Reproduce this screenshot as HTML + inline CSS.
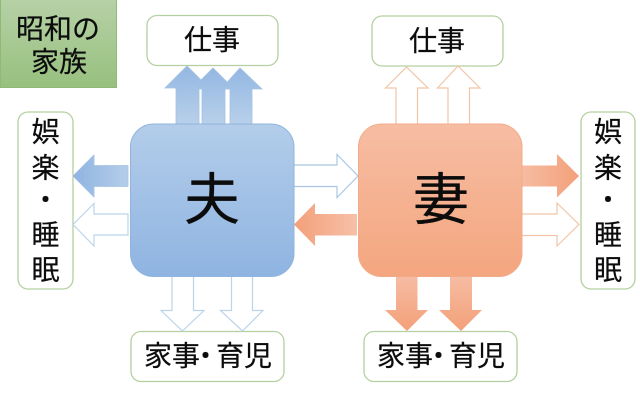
<!DOCTYPE html>
<html lang="ja">
<head>
<meta charset="utf-8">
<style>
html,body{margin:0;padding:0;background:#fff;width:640px;height:400px;overflow:hidden}
svg{display:block;filter:blur(0.3px)}
text{font-family:"Liberation Sans","Noto Sans CJK JP",sans-serif;fill:#0c0c0c;stroke:#0c0c0c;stroke-width:0.2;text-anchor:middle;dominant-baseline:central}
</style>
</head>
<body>
<svg width="640" height="400" viewBox="0 0 640 400" xmlns="http://www.w3.org/2000/svg">
<defs>
<linearGradient id="gg" x1="0" y1="0" x2="0" y2="1"><stop offset="0" stop-color="#b6d1a6"/><stop offset="1" stop-color="#97c07e"/></linearGradient>
<linearGradient id="bb" x1="0" y1="0" x2="0" y2="1"><stop offset="0" stop-color="#b3cdea"/><stop offset="1" stop-color="#8fb4e1"/></linearGradient>
<linearGradient id="ob" x1="0" y1="0" x2="0" y2="1"><stop offset="0" stop-color="#f6bda3"/><stop offset="1" stop-color="#f4a67f"/></linearGradient>
<linearGradient id="bu" x1="0" y1="1" x2="0" y2="0"><stop offset="0" stop-color="#b8d0ea"/><stop offset="1" stop-color="#93b7e2"/></linearGradient>
<linearGradient id="bl" x1="1" y1="0" x2="0" y2="0"><stop offset="0" stop-color="#b5cde9"/><stop offset="1" stop-color="#8fb4e1"/></linearGradient>
<linearGradient id="or" x1="0" y1="0" x2="1" y2="0"><stop offset="0" stop-color="#f6bca3"/><stop offset="1" stop-color="#f3a079"/></linearGradient>
<linearGradient id="ol" x1="1" y1="0" x2="0" y2="0"><stop offset="0" stop-color="#f6c0a8"/><stop offset="1" stop-color="#f3a079"/></linearGradient>
<linearGradient id="od" x1="0" y1="0" x2="0" y2="1"><stop offset="0" stop-color="#f6bca3"/><stop offset="1" stop-color="#f3a079"/></linearGradient>
</defs>

<rect x="0.5" y="-1" width="116" height="88.5" fill="url(#gg)" stroke="#8fba76" stroke-width="1"/>
<text x="58" y="29" font-size="28">昭和の</text>
<text x="59" y="62" font-size="28">家族</text>

<!-- label boxes -->
<g fill="#fff" stroke="#b5d0a0" stroke-width="1.3">
<rect x="147" y="15.500" width="131" height="50" rx="10"/>
<rect x="372" y="16" width="131" height="50" rx="10"/>
<rect x="18" y="112" width="55" height="177" rx="10"/>
<rect x="581" y="112" width="54" height="177" rx="10"/>
<rect x="131" y="331.500" width="153" height="50" rx="10"/>
<rect x="364" y="331.500" width="153" height="50" rx="10"/>
</g>

<!-- blue up arrows -->
<g fill="url(#bu)" stroke="#a3c2e5" stroke-width="0.8">
<path d="M176 124V88H165L187 66L209 88H199V124Z"/>
<path d="M230 124V89H221L240 68L262 89H252V124Z"/>
<path d="M202 124V89H192L213 68L234 89H225V124Z"/>
</g>

<!-- orange outline up arrows -->
<g fill="#fff" stroke="#f2c5a8" stroke-width="1.2">
<path d="M396 124V88H385.500L406.500 67L428 88H417.500V124"/>
<path d="M448 124V88H437.500L458 66L480 88H469.500V124"/>
</g>

<!-- blue left arrows -->
<path d="M128 165.500H94V155L73 176L94 197V186.500H128Z" fill="url(#bl)" stroke="#a3c2e5" stroke-width="0.8"/>
<path d="M128 214H94V203.500L73 224.500L94 246V235H128Z" fill="#fff" stroke="#bcd4ea" stroke-width="1.2"/>

<!-- center arrows -->
<path d="M294 165H337V154.500L358 176L337 197.500V186.500H294" fill="#fff" stroke="#a9c8e4" stroke-width="1.2"/>
<path d="M357 214H315V203L294 224.500L315 246V235.500H357Z" fill="url(#ol)"/>

<!-- right arrows -->
<path d="M522 165.500H557V154L579 176L557 197.500V186.500H522Z" fill="url(#or)"/>
<path d="M522 214H557V203L579 224.500L557 246V235.500H522" fill="#fff" stroke="#f2c5a8" stroke-width="1.2"/>

<!-- blue outline down arrows -->
<g fill="#fff" stroke="#bcd4ea" stroke-width="1.2">
<path d="M172 276V310.500H161L182.500 331L204 310.500H193.500V276"/>
<path d="M231.500 276V310.500H220.500L242.500 331L263 310.500H252.500V276"/>
</g>

<!-- orange down arrows -->
<g fill="url(#od)">
<path d="M396 276V310H385L407 331L428 310H417.500V276Z"/>
<path d="M450 276V310H439L461 331L482 310H472V276Z"/>
</g>

<!-- main boxes -->
<rect x="130.500" y="124" width="163.500" height="152.500" rx="23" fill="url(#bb)" stroke="#8fb4de" stroke-width="1"/>
<rect x="358.500" y="124" width="163.500" height="152.500" rx="23" fill="url(#ob)" stroke="#f2ab88" stroke-width="1"/>

<text x="212" y="200" font-size="56">夫</text>
<text x="441" y="200" font-size="56">妻</text>

<text x="212" y="40" font-size="28">仕事</text>
<text x="437" y="41" font-size="28">仕事</text>

<g font-size="28">
<text x="45.500" y="132">娯</text>
<text x="45.500" y="168">楽</text>
<text x="45.500" y="200">・</text>
<text x="45.500" y="235">睡</text>
<text x="45.500" y="270">眠</text>
<text x="608" y="132">娯</text>
<text x="608" y="168">楽</text>
<text x="608" y="200">・</text>
<text x="608" y="235">睡</text>
<text x="608" y="270">眠</text>
</g>

<g font-size="28">
<text x="172" y="356">家事</text>
<text x="205.500" y="356">・</text>
<text x="244" y="356">育児</text>
<text x="405" y="356">家事</text>
<text x="438.500" y="356">・</text>
<text x="477" y="356">育児</text>
</g>
</svg>
</body>
</html>
